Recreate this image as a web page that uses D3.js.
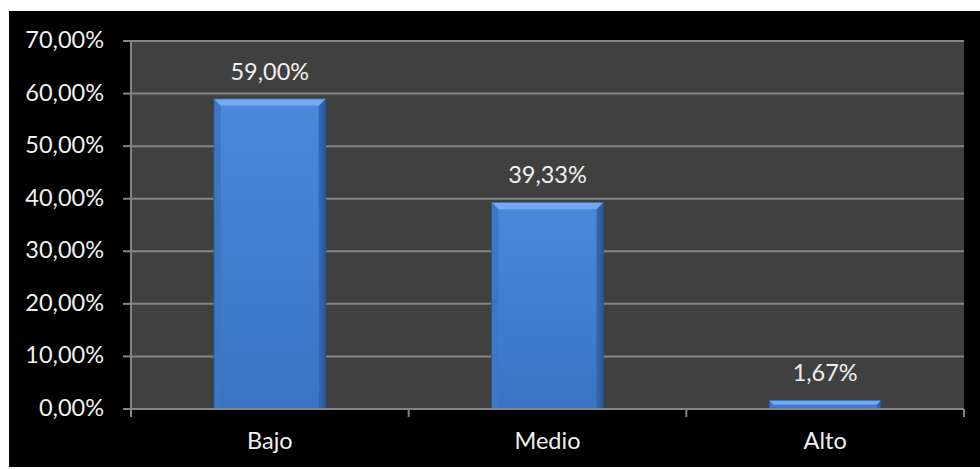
<!DOCTYPE html>
<html>
<head>
<meta charset="utf-8">
<script src="https://cdn.jsdelivr.net/npm/d3@7"></script>
<style>
  html, body { margin: 0; padding: 0; background: #ffffff; }
  svg { display: block; }
  text { font-family: Lato, "Open Sans", sans-serif; fill: #f0f0f0; }
</style>
</head>
<body>
<svg id="chart" width="980" height="469"></svg>
<script>
// Data
const categories = ["Bajo", "Medio", "Alto"];
const values = [59.00, 39.33, 1.67];
const yTicks = [0, 10, 20, 30, 40, 50, 60, 70];

const fmt = v => v.toFixed(2).replace(".", ",") + "%";

const svg = d3.select("#chart");
const W = 980, H = 469;
const FS = 23.5;

// Outer black panel
svg.append("rect").attr("x", 9).attr("y", 11).attr("width", W - 9).attr("height", 456).attr("fill", "#000");

const plot = { left: 131, right: 964, top: 41, bottom: 409 };

const x = d3.scaleBand().domain(categories).range([plot.left, plot.right]).padding(0);
const y = d3.scaleLinear().domain([0, 70]).range([plot.bottom, plot.top]);

// Plot area background
svg.append("rect")
  .attr("x", plot.left).attr("y", plot.top)
  .attr("width", plot.right - plot.left).attr("height", plot.bottom - plot.top)
  .attr("fill", "#404040");

// Gridlines
svg.append("g").selectAll("line").data(yTicks.filter(t => t > 0)).join("line")
  .attr("x1", plot.left).attr("x2", plot.right)
  .attr("y1", d => y(d)).attr("y2", d => y(d))
  .attr("stroke", "#858585").attr("stroke-width", 2);

// Gradients for bars
const defs = svg.append("defs");
const g1 = defs.append("linearGradient").attr("id", "barFill").attr("x1", 0).attr("x2", 0).attr("y1", 0).attr("y2", 1);
g1.append("stop").attr("offset", "0%").attr("stop-color", "#4a89dc");
g1.append("stop").attr("offset", "100%").attr("stop-color", "#3b73c2");
const g2 = defs.append("linearGradient").attr("id", "barSide").attr("x1", 0).attr("x2", 1).attr("y1", 0).attr("y2", 0);
g2.append("stop").attr("offset", "0%").attr("stop-color", "#3468b0");
g2.append("stop").attr("offset", "100%").attr("stop-color", "#2a5898");

const barFrac = 0.403;
const bw = x.bandwidth() * barFrac;
const bevel = 7;

const bars = svg.append("g").selectAll("g").data(categories.map((c, i) => ({ c, v: values[i] }))).join("g");

bars.each(function(d) {
  const g = d3.select(this);
  const x0 = x(d.c) + (x.bandwidth() - bw) / 2;
  const x1 = x0 + bw;
  const y0 = y(d.v);
  const y1 = y(0);
  const b = Math.min(bevel, (y1 - y0) / 2);
  // body
  g.append("rect").attr("x", x0).attr("y", y0).attr("width", bw).attr("height", y1 - y0)
    .attr("fill", "url(#barFill)");
  // left bevel
  g.append("polygon")
    .attr("points", [[x0, y0], [x0 + b, y0 + b], [x0 + b, y1], [x0, y1]].join(" "))
    .attr("fill", "#3c77c6");
  // right bevel
  g.append("polygon")
    .attr("points", [[x1, y0], [x1 - b, y0 + b], [x1 - b, y1], [x1, y1]].join(" "))
    .attr("fill", "url(#barSide)");
  // top bevel
  g.append("polygon")
    .attr("points", [[x0, y0], [x1, y0], [x1 - b, y0 + b], [x0 + b, y0 + b]].join(" "))
    .attr("fill", "#72a9f0");
  // outline
  g.append("rect").attr("x", x0).attr("y", y0).attr("width", bw).attr("height", y1 - y0)
    .attr("fill", "none").attr("stroke", "#1f4a86").attr("stroke-width", 0.8).attr("stroke-opacity", 0.8);
  // value label
  g.append("text").attr("x", x0 + bw / 2).attr("y", y0 - 19)
    .attr("text-anchor", "middle").attr("font-size", FS).text(fmt(d.v));
});

// Y axis
const yAxis = svg.append("g");
yAxis.append("line").attr("x1", plot.left).attr("x2", plot.left).attr("y1", plot.top).attr("y2", plot.bottom)
  .attr("stroke", "#858585").attr("stroke-width", 2);
yAxis.selectAll("line.tick").data(yTicks).join("line").attr("class", "tick")
  .attr("x1", plot.left - 8).attr("x2", plot.left)
  .attr("y1", d => y(d)).attr("y2", d => y(d))
  .attr("stroke", "#858585").attr("stroke-width", 2);
yAxis.selectAll("text").data(yTicks).join("text")
  .attr("x", 104).attr("y", d => y(d) + 7)
  .attr("text-anchor", "end").attr("font-size", FS)
  .text(d => fmt(d));

// X axis
const xAxis = svg.append("g");
xAxis.append("line").attr("x1", plot.left).attr("x2", plot.right).attr("y1", plot.bottom).attr("y2", plot.bottom)
  .attr("stroke", "#858585").attr("stroke-width", 2);
const bounds = categories.map(c => x(c)).concat([x(categories[categories.length - 1]) + x.bandwidth()]);
xAxis.selectAll("line.tick").data(bounds).join("line").attr("class", "tick")
  .attr("x1", d => d).attr("x2", d => d).attr("y1", plot.bottom).attr("y2", plot.bottom + 8)
  .attr("stroke", "#858585").attr("stroke-width", 2);
xAxis.selectAll("text").data(categories).join("text")
  .attr("x", d => x(d) + x.bandwidth() / 2).attr("y", 449)
  .attr("text-anchor", "middle").attr("font-size", FS)
  .text(d => d);
</script>
</body>
</html>
